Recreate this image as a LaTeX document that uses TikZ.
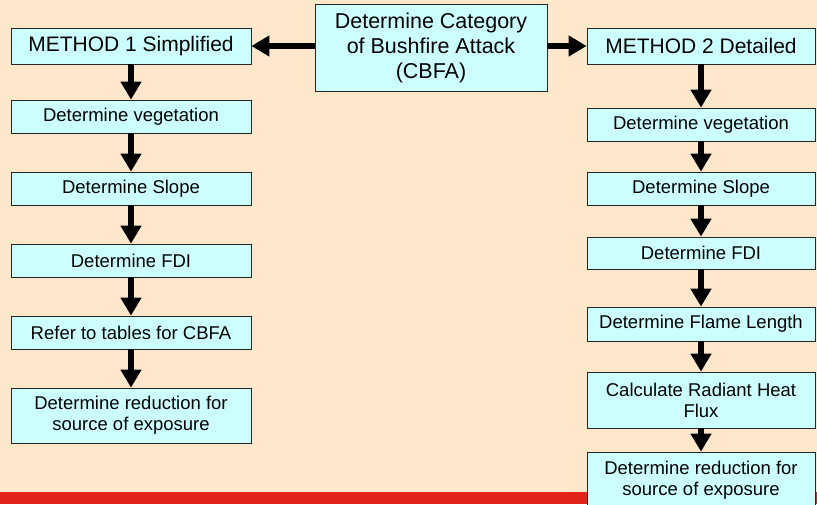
\documentclass[tikz,border=0pt]{standalone}
\usepackage{fontspec}
\setmainfont{Liberation Sans}
\usetikzlibrary{arrows.meta}
\definecolor{paleorange}{HTML}{FEE7CB}
\definecolor{lightcyan}{HTML}{CCFFFF}
\definecolor{barred}{HTML}{E2231A}

\begin{document}
\begin{tikzpicture}[x=1pt, y=-1pt, node distance=72pt,
    stepbox/.style={draw=black!85, line width=0.8pt, fill=lightcyan, text centered, align=center, inner sep=1pt, minimum height=33pt, font=\fontsize{18.5}{21}\selectfont},
    leftbox/.style={stepbox, minimum width=240pt},
    rightbox/.style={stepbox, minimum width=228pt},
    flowarrow/.style={line width=6pt, -{Triangle[width=20pt,length=18pt]}}]

        % Background
        \useasboundingbox (0,0) rectangle (817,504);
        \clip (0,0) rectangle (817,504);
        \fill[paleorange] (0,0) rectangle (817,504);
        \fill[barred] (0,492) rectangle (817,504);

        % Nodes
        \node (cbfa) at (431,47.5) [stepbox, minimum width=232pt, minimum height=87pt, font=\fontsize{21.5}{25}\selectfont] {Determine Category\\of Bushfire Attack\\(CBFA)};

        \node (m1) at (131,46) [leftbox, minimum height=36pt, font=\fontsize{21}{25}\selectfont] {METHOD 1 Simplified};
        \node (vegL) [below of=m1, node distance=70.5pt, leftbox] {Determine vegetation};
        \node (slopeL) [below of=vegL, leftbox] {Determine Slope};
        \node (fdiL) [below of=slopeL, leftbox] {Determine FDI};
        \node (tablesL) [below of=fdiL, leftbox] {Refer to tables for CBFA};
        \node (reduceL) [below of=tablesL, node distance=83pt, leftbox, minimum height=55pt] {Determine reduction for\\source of exposure};

        \node (m2) at (701,46) [rightbox, minimum height=36pt, font=\fontsize{21}{25}\selectfont] {METHOD 2 Detailed};
        \node (vegR) [below of=m2, node distance=78.5pt, rightbox] {Determine vegetation};
        \node (slopeR) [below of=vegR, node distance=64pt, rightbox] {Determine Slope};
        \node (fdiR) [below of=slopeR, node distance=64.5pt, rightbox, minimum height=32pt] {Determine FDI};
        \node (flameR) [below of=fdiR, node distance=71pt, rightbox, minimum height=34pt] {Determine Flame Length};
        \node (heatR) [below of=flameR, node distance=76pt, rightbox, minimum height=56pt] {Calculate Radiant Heat\\Flux};
        \node (reduceR) [below of=heatR, node distance=80pt, rightbox, minimum height=56pt] {Determine reduction for\\source of exposure};

        % Arrows
        \draw[flowarrow] (cbfa.west |- m1) -- (m1);
        \draw[flowarrow] (cbfa.east |- m2) -- (m2);
        \foreach \i/\j in {m1/vegL, vegL/slopeL, slopeL/fdiL, fdiL/tablesL, tablesL/reduceL, m2/vegR, vegR/slopeR, slopeR/fdiR, fdiR/flameR, flameR/heatR, heatR/reduceR} {
            \draw[flowarrow] (\i) -- (\j);
        }

    \end{tikzpicture}
\end{document}
